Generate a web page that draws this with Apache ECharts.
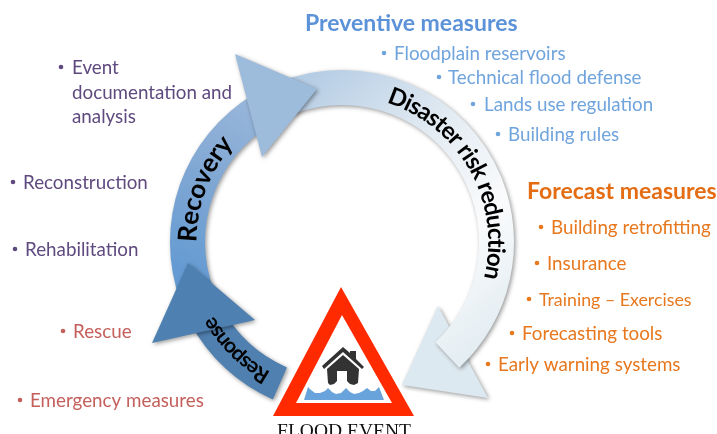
<!DOCTYPE html>
<html><head><meta charset="utf-8">
<style>html,body{margin:0;padding:0;background:#fff;overflow:hidden}#c{width:717px;height:434px}</style>
<script src="https://cdn.jsdelivr.net/npm/echarts@6/dist/echarts.min.js"></script>
</head><body><div id="c"></div>
<script>
// Text content
const preventiveTitle = 'Preventive measures';
const preventiveItems = ['Floodplain reservoirs', 'Technical flood defense', 'Lands use regulation', 'Building rules'];
const forecastTitle = 'Forecast measures';
const forecastItems = ['Building retrofitting', 'Insurance', 'Training – Exercises', 'Forecasting tools', 'Early warning systems'];
const recoveryItems = [['Event', 'documentation and', 'analysis'], ['Reconstruction'], ['Rehabilitation']];
const responseItems = ['Rescue', 'Emergency measures'];
const ringLabels = ['Disaster risk reduction', 'Recovery', 'Response'];
const eventLabel = 'FLOOD EVENT';

// Layout (kept apart from the text)
const CX = 342, CY = 242, R0 = 137, R = 172;
const deg = d => d * Math.PI / 180;
const FONT = 'Lato, "Open Sans", sans-serif';
const SHADOW = { shadowBlur: 4, shadowColor: 'rgba(0,0,0,0.4)', shadowOffsetX: 1.5, shadowOffsetY: 1.5 };
const grad = (x, y, x2, y2, stops) => ({ type: 'linear', x, y, x2, y2, global: true,
  colorStops: stops.map(s => ({ offset: s[0], color: s[1] })) });
const els = [];

function sector(a0, a1, fill, z) {
  els.push({ type: 'sector', z, silent: true,
    shape: { cx: CX, cy: CY, r0: R0, r: R, startAngle: deg(a0), endAngle: deg(a1), clockwise: true },
    style: Object.assign({ fill }, SHADOW) });
}
function tri(pts, fill, z) {
  els.push({ type: 'polygon', z, silent: true, shape: { points: pts }, style: Object.assign({ fill }, SHADOW) });
}
// Arrow head lower right, light arc
tri([[438, 306], [488, 398], [402, 385]], '#dde9f0', 1);
sector(-112, 47, grad(290, 90, 500, 330, [[0, '#b4cce4'], [0.4, '#e4ecf3'], [0.7, '#fafbfc'], [1, '#e3edf2']]), 2);
// Recovery arc and head
sector(160, 239, grad(185, 300, 270, 110, [[0, '#5e98d2'], [0.55, '#7ea6d3'], [1, '#98b6da']]), 4);
tri([[235, 54], [317, 89], [262, 157]], '#9dbbdb', 5);
// Response arc and head
sector(113.7, 152, '#4f80b0', 6);
tri([[188, 263], [255, 320], [152, 343]], '#4f80b2', 7);

// Text along the ring, one glyph at a time
const ctx = document.createElement('canvas').getContext('2d');
function ringText(str, a0, a1, r, size, weight, z) {
  const font = weight + ' ' + size + 'px ' + FONT;
  ctx.font = font;
  const w = [...str].map(c => ctx.measureText(c).width);
  const tot = w.reduce((a, b) => a + b, 0);
  const span = deg(a1 - a0) * r;
  const k = span / tot;
  let s = 0;
  [...str].forEach((c, i) => {
    const a = deg(a0) + (s + w[i] * k / 2) / r;
    s += w[i] * k;
    if (c === ' ') return;
    els.push({ type: 'text', z, silent: true,
      x: CX + r * Math.cos(a), y: CY + r * Math.sin(a), rotation: -(a + Math.PI / 2),
      style: { text: c, font, fill: '#000', align: 'center', verticalAlign: 'middle' } });
  });
}
ringText(ringLabels[0], -72, 14, 154, 24, 700, 10);
ringText(ringLabels[1], -180, -138, 154, 26, 700, 10);
ringText(ringLabels[2], 119, 150, 155, 21, 700, 10);

// Side labels
function label(str, x, y, color, size, weight) {
  els.push({ type: 'text', z: 11, silent: true, x, y,
    style: { text: str, font: (weight || 400) + ' ' + size + 'px ' + FONT, fill: color, align: 'left', verticalAlign: 'middle' } });
}
function item(str, x, y, color, bx, size) {
  label(str, x, y, color, size || 18.8);
  if (bx != null) els.push({ type: 'circle', z: 11, silent: true, shape: { cx: bx, cy: y - 1, r: 2.3 }, style: { fill: color } });
}
const BLUE = '#6fa4dc', BLUEH = '#5c92d8', ORANGE = '#e8781e', ORANGEH = '#e46c12', PURPLE = '#5f4a7f', RED = '#c4605c';
label(preventiveTitle, 305, 24, BLUEH, 23, 700);
[[394, 54, 384], [448, 78, 439], [484, 105, 473], [508, 135, 498]].forEach((p, i) => item(preventiveItems[i], p[0], p[1], BLUE, p[2]));
label(forecastTitle, 527, 192, ORANGEH, 23, 700);
[[551, 228, 541], [547, 264, 537], [539, 300, 529, 17.8], [522, 334, 512], [498, 365, 488]].forEach((p, i) => item(forecastItems[i], p[0], p[1], ORANGE, p[2], p[3]));
item(recoveryItems[0][0], 72, 68, PURPLE, 61);
item(recoveryItems[0][1], 72, 93, PURPLE);
item(recoveryItems[0][2], 72, 117, PURPLE);
item(recoveryItems[1][0], 23, 183, PURPLE, 13);
item(recoveryItems[2][0], 25, 250, PURPLE, 15);
item(responseItems[0], 73, 332, RED, 63);
item(responseItems[1], 30, 401, RED, 20);

// Warning sign
function poly(points, fill, z) {
  els.push({ type: 'polygon', z, silent: true, shape: { points }, style: { fill } });
}
poly([[341, 287], [414, 416], [273, 416]], '#ff2a00', 12);
poly([[342, 315], [392, 403], [296, 403]], '#fff', 13);
poly([[304, 400], [308, 387], [311, 390], [315, 393], [320, 393], [325, 391], [328, 388], [332, 392], [336, 394], [341, 393], [346, 388],
      [350, 392], [354, 394], [359, 393], [363, 391], [367, 388], [371, 391], [375, 391], [379, 387], [384, 400]], '#68a3dc', 14);
poly([[327, 369], [343, 355], [359, 369], [358, 383], [354, 385], [350, 384], [347, 381], [347, 371], [337, 371], [337, 381], [334, 384], [330, 385], [328, 383]], '#333', 15);
poly([[322, 366], [343, 347], [350, 353], [350, 351], [356, 351], [356, 359], [364, 367], [362, 369], [343, 352], [324, 369]], '#333', 15);
els.push({ type: 'text', z: 16, silent: true, x: 344, y: 422,
  style: { text: eventLabel, font: '400 19.5px "Liberation Serif", serif', fill: '#111', align: 'center', verticalAlign: 'top' } });

const chart = echarts.init(document.getElementById('c'), null, { renderer: 'canvas', width: 717, height: 434 });
chart.setOption({ backgroundColor: '#fff', animation: false, graphic: { elements: els } });
</script></body></html>
